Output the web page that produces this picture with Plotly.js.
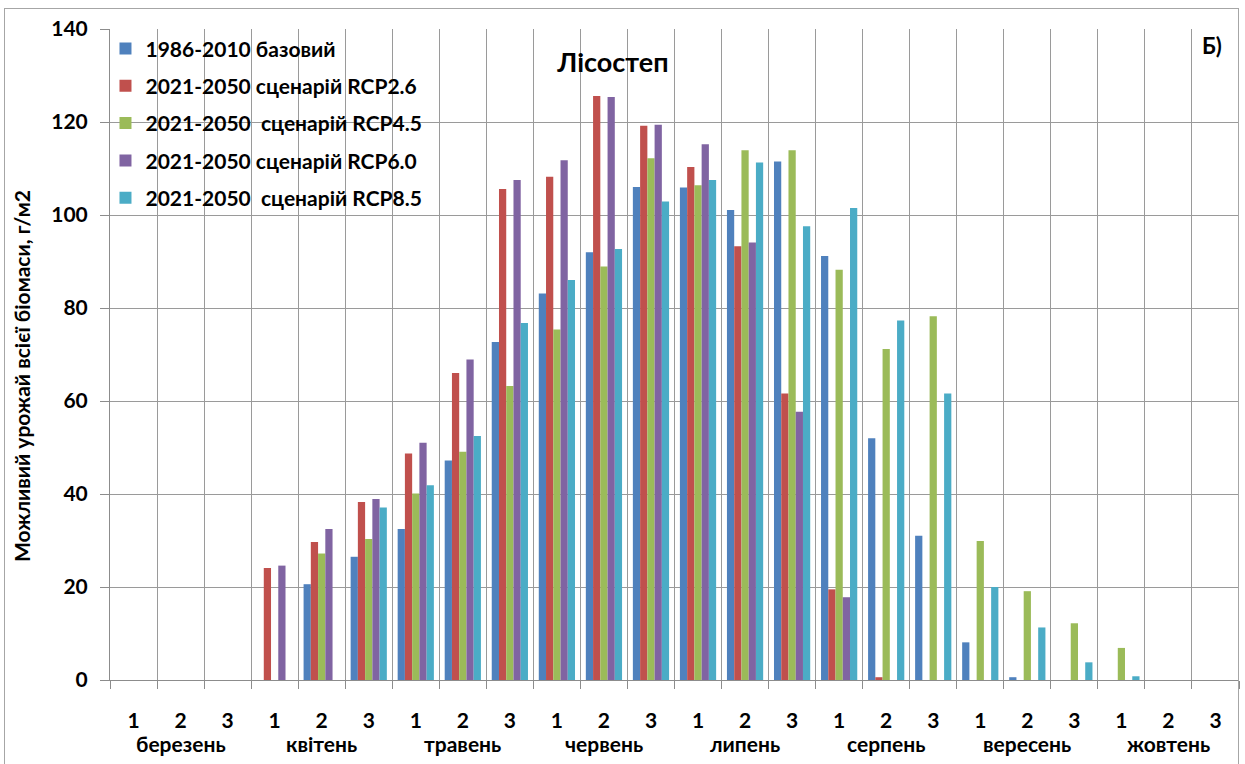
<!DOCTYPE html>
<html>
<head>
<meta charset="utf-8">
<script src="https://cdn.plot.ly/plotly-3.0.1.min.js"></script>
<style>
  html, body { margin: 0; padding: 0; background: #fff; }
  #wrap { position: relative; width: 1245px; height: 764px; }
  #chart { position: absolute; left: 0; top: 0; width: 1245px; height: 764px; }
  #frame { position: absolute; left: 4px; top: 8px; width: 1233px; height: 760px; border: 1px solid #a6a6a6; pointer-events: none; }
</style>
</head>
<body>
<div id="wrap"><div id="chart"></div><div id="frame"></div></div>
<script>
const months = ["березень", "квітень", "травень", "червень", "липень", "серпень", "вересень", "жовтень"];
const decades = ["1", "2", "3"];
const seriesNames = ["1986-2010 базовий", "2021-2050 сценарій RCP2.6", "2021-2050  сценарій RCP4.5", "2021-2050 сценарій RCP6.0", "2021-2050  сценарій RCP8.5"];
const seriesColors = ["#4F81BD", "#C0504D", "#9BBB59", "#8064A2", "#4BACC6"];

const base1986 = [0, 0, 0, 0, 20.6, 26.5, 32.5, 47.2, 72.7, 83.1, 92.0, 106.0, 105.9, 101.1, 111.5, 91.2, 52.0, 31.0, 8.1, 0.6, 0, 0, 0, 0];
const rcp26 =    [0, 0, 0, 24.1, 29.7, 38.3, 48.7, 66.0, 105.6, 108.2, 125.6, 119.2, 110.3, 93.3, 61.6, 19.5, 0.6, 0, 0, 0, 0, 0, 0, 0];
const rcp45 =    [0, 0, 0, 0, 27.2, 30.3, 40.1, 49.1, 63.2, 75.4, 88.9, 112.2, 106.4, 113.9, 113.9, 88.2, 71.2, 78.2, 29.9, 19.1, 12.2, 6.9, 0, 0];
const rcp60 =    [0, 0, 0, 24.6, 32.5, 38.9, 51.0, 68.9, 107.5, 111.8, 125.4, 119.4, 115.2, 94.1, 57.7, 17.8, 0, 0, 0, 0, 0, 0, 0, 0];
const rcp85 =    [0, 0, 0, 0, 0, 37.1, 41.9, 52.5, 76.8, 86.0, 92.7, 102.9, 107.5, 111.3, 97.6, 101.5, 77.3, 61.6, 20.0, 11.3, 3.8, 0.8, 0, 0];

const yTicks = [0, 20, 40, 60, 80, 100, 120, 140];
const chartTitle = "Лісостеп";
const panelLabel = "Б)";
const yTitle = "Можливий урожай всієї біомаси, г/м2";

const categories = [];
const tickText = [];
months.forEach(m => decades.forEach(d => { categories.push(m + " " + d); tickText.push(d); }));

const allSeries = [base1986, rcp26, rcp45, rcp60, rcp85];
const FONT = "Lato, 'Open Sans', 'Liberation Sans', sans-serif";

const traces = allSeries.map((vals, i) => ({
  type: "bar",
  x: categories,
  y: vals,
  name: seriesNames[i],
  legendgroup: "g" + i,
  marker: { color: seriesColors[i], line: { width: 0 } },
  hoverinfo: "x+y+name"
}));

const monthAnnotations = months.map(m => ({
  x: m + " 2", xref: "x",
  y: -0.097, yref: "paper", yanchor: "middle",
  text: m, showarrow: false,
  font: { family: FONT, size: 21, color: "#000", weight: 700 }
}));

const layout = {
  width: 1245, height: 764,
  margin: { l: 110, r: 6, t: 29, b: 84 },
  paper_bgcolor: "#fff", plot_bgcolor: "#fff",
  barmode: "group", bargap: 0.23, bargroupgap: 0,
  font: { family: FONT, color: "#000" },
  title: {
    text: chartTitle, x: 0.4455, xref: "paper", xanchor: "center",
    y: 1 - 63 / 764, yanchor: "middle",
    font: { family: FONT, size: 27, color: "#000", weight: 700 }
  },
  showlegend: true,
  legend: {
    x: -0.004, y: 1.001, xanchor: "left", yanchor: "top",
    bgcolor: "rgba(0,0,0,0)", borderwidth: 0,
    tracegroupgap: 7,
    font: { family: FONT, size: 21, color: "#000", weight: 700 }
  },
  xaxis: {
    type: "category",
    categoryorder: "array", categoryarray: categories,
    tickvals: categories, ticktext: tickText,
    tickson: "boundaries",
    ticks: "outside", ticklen: 8, tickcolor: "#8c8c8c", tickwidth: 1,
    ticklabelstandoff: 22,
    showgrid: true, gridcolor: "#9a9a9a", gridwidth: 1,
    showline: true, linecolor: "#8c8c8c", linewidth: 1,
    zeroline: false,
    range: [-0.5, 23.5],
    tickfont: { family: FONT, size: 21, color: "#000", weight: 700 },
    fixedrange: true
  },
  yaxis: {
    range: [0, 140],
    tickvals: yTicks,
    ticks: "outside", ticklen: 9, tickcolor: "#8c8c8c", tickwidth: 1,
    ticklabelstandoff: 8,
    showgrid: true, gridcolor: "#9a9a9a", gridwidth: 1,
    showline: true, linecolor: "#8c8c8c", linewidth: 1,
    zeroline: false,
    tickfont: { family: FONT, size: 21, color: "#000", weight: 700 },
    fixedrange: true
  },
  annotations: monthAnnotations.concat([
    {
      x: 0.976, xref: "paper", y: 0.975, yref: "paper",
      xanchor: "center", yanchor: "middle",
      text: panelLabel, showarrow: false,
      font: { family: FONT, size: 22, color: "#000", weight: 700 }
    },
    {
      x: -0.078, xref: "paper", y: 0.467, yref: "paper",
      xanchor: "center", yanchor: "middle", textangle: -90,
      text: yTitle, showarrow: false,
      font: { family: FONT, size: 21, color: "#000", weight: 700 }
    }
  ])
};

Plotly.newPlot("chart", traces, layout, { displayModeBar: false, staticPlot: true });
</script>
</body>
</html>
